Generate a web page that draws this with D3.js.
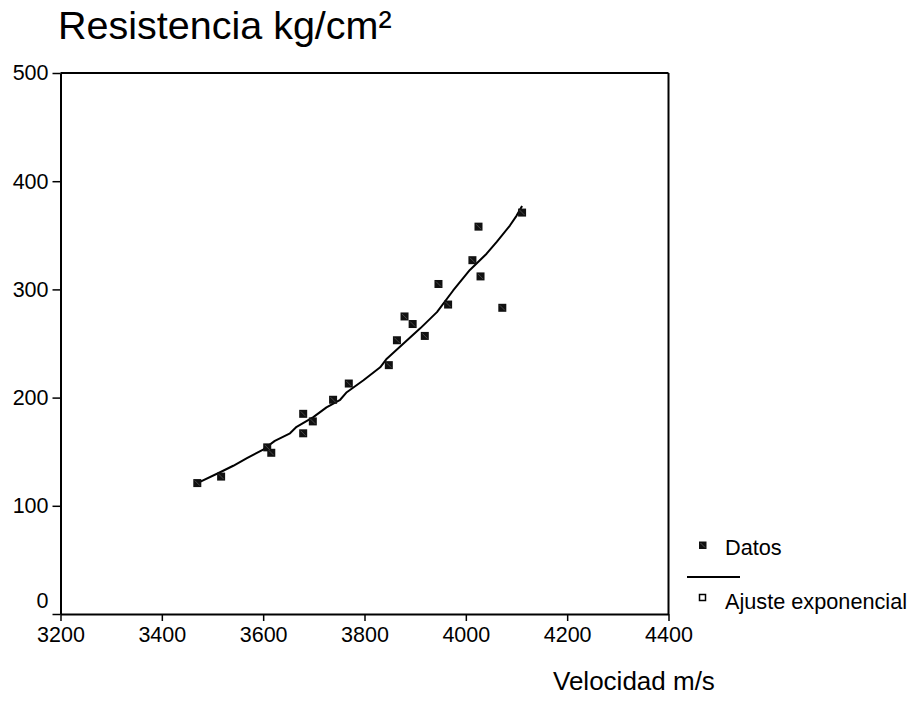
<!DOCTYPE html>
<html>
<head>
<meta charset="utf-8">
<script src="https://cdn.jsdelivr.net/npm/d3@7"></script>
<style>
  html, body { margin: 0; padding: 0; background: #fff; }
  svg { display: block; font-family: Arial, "Liberation Sans", sans-serif; }
</style>
</head>
<body>
<svg id="chart" width="914" height="722"></svg>
<script>
// Data: observed points (Velocidad m/s, Resistencia kg/cm²)
const datosX = [3470, 3517, 3608, 3616, 3679, 3698, 3679, 3738, 3769, 3848, 3864,
                3879, 3895, 3919, 3946, 3965, 4013, 4029, 4025, 4072, 4111];
const datosY = [121, 127, 154, 149, 185, 178, 167, 198, 213, 230, 253,
                275, 268, 257, 305, 286, 327, 312, 358, 283, 371];

// Exponential fit line
const ajusteX = [3470, 3515, 3541, 3568, 3600, 3623, 3653, 3666, 3699, 3725, 3752,
                 3765, 3798, 3831, 3844, 3877, 3910, 3943, 3975, 4008, 4041, 4061,
                 4087, 4100, 4111];
const ajusteY = [121, 131, 137, 144, 152, 160, 167, 173, 182, 191, 198,
                 205, 216, 228, 236, 250, 264, 279, 299, 318, 333, 344,
                 359, 368, 377];

const xTicks = [3200, 3400, 3600, 3800, 4000, 4200, 4400];
const yTicks = [0, 100, 200, 300, 400, 500];

const titleText = "Resistencia kg/cm²";
const xTitleText = "Velocidad m/s";
const legendLabels = ["Datos", "Ajuste exponencial"];

const svg = d3.select("#chart");
const pLeft = 60.5, pRight = 668.5, pTop = 73, pBottom = 614;
const FONT = 'Arial, "Liberation Sans", sans-serif';

const x = d3.scaleLinear().domain([3200, 4400]).range([pLeft, pRight]);
const y = d3.scaleLinear().domain([0, 500]).range([pBottom, pTop]);

// Title
svg.append("text")
  .attr("x", 58).attr("y", 39)
  .attr("font-size", 39.5)
  .attr("fill", "#000")
  .text(titleText);

// Frame (top and right)
svg.append("line").attr("x1", pLeft).attr("x2", pRight).attr("y1", pTop).attr("y2", pTop)
  .attr("stroke", "#000").attr("stroke-width", 2);
svg.append("line").attr("x1", pRight).attr("x2", pRight).attr("y1", pTop).attr("y2", pBottom)
  .attr("stroke", "#000").attr("stroke-width", 2);

// Axes
const xAxis = d3.axisBottom(x).tickValues(xTicks).tickSize(7).tickSizeOuter(0).tickPadding(6)
  .tickFormat(d3.format("d"));
const gx = svg.append("g").attr("transform", `translate(0,${pBottom})`).call(xAxis);
gx.select(".domain").attr("stroke-width", 2).attr("stroke", "#000");
gx.selectAll(".tick line").attr("stroke-width", 1.5).attr("stroke", "#000");
gx.selectAll(".tick text").attr("font-size", 21.5).attr("fill", "#000").attr("font-family", FONT);

const yAxis = d3.axisLeft(y).tickValues(yTicks).tickSize(8).tickSizeOuter(0).tickPadding(4)
  .tickFormat(d3.format("d"));
const gy = svg.append("g").attr("transform", `translate(${pLeft},0)`).call(yAxis);
gy.select(".domain").attr("stroke-width", 2).attr("stroke", "#000");
gy.selectAll(".tick line").attr("stroke-width", 1.5).attr("stroke", "#000");
gy.selectAll(".tick text").attr("font-size", 21.5).attr("fill", "#000").attr("font-family", FONT);
// the "0" label sits raised above its tick
gy.selectAll(".tick").filter(d => d === 0).select("text").attr("dy", "-0.28em");

// X title
svg.append("text")
  .attr("x", 553).attr("y", 690)
  .attr("font-size", 26)
  .attr("fill", "#000")
  .text(xTitleText);

// Fit line
const lineData = ajusteX.map((d, i) => [d, ajusteY[i]]);
svg.append("path")
  .datum(lineData)
  .attr("fill", "none")
  .attr("stroke", "#000")
  .attr("stroke-width", 2)
  .attr("stroke-linejoin", "round")
  .attr("d", d3.line().x(d => x(d[0])).y(d => y(d[1])));

// Data points
const pts = datosX.map((d, i) => [d, datosY[i]]);
const s = 8;
const g = svg.append("g");
g.selectAll("rect").data(pts).join("rect")
  .attr("x", d => x(d[0]) - s / 2)
  .attr("y", d => y(d[1]) - s / 2)
  .attr("width", s).attr("height", s)
  .attr("fill", "#111");
g.selectAll("line").data(pts).join("line")
  .attr("x1", d => x(d[0]) - s / 2 + 1.5)
  .attr("y1", d => y(d[1]) - s / 2 + 1.5)
  .attr("x2", d => x(d[0]) + s / 2 - 1.5)
  .attr("y2", d => y(d[1]) + s / 2 - 1.5)
  .attr("stroke", "#555").attr("stroke-width", 0.8);

// Legend
const lg = svg.append("g");
lg.append("rect").attr("x", 699).attr("y", 541.5).attr("width", 7.5).attr("height", 7.5).attr("fill", "#111");
lg.append("line").attr("x1", 700.5).attr("y1", 543).attr("x2", 705).attr("y2", 547.5)
  .attr("stroke", "#666").attr("stroke-width", 0.8);
lg.append("text").attr("x", 725).attr("y", 555).attr("font-size", 21.7).attr("fill", "#000").text(legendLabels[0]);
lg.append("line").attr("x1", 687).attr("x2", 740).attr("y1", 577).attr("y2", 577)
  .attr("stroke", "#000").attr("stroke-width", 2);
lg.append("rect").attr("x", 699.5).attr("y", 594.5).attr("width", 6).attr("height", 6)
  .attr("fill", "#fff").attr("stroke", "#000").attr("stroke-width", 1.5);
lg.append("text").attr("x", 725).attr("y", 609).attr("font-size", 21.7).attr("fill", "#000").text(legendLabels[1]);
</script>
</body>
</html>
